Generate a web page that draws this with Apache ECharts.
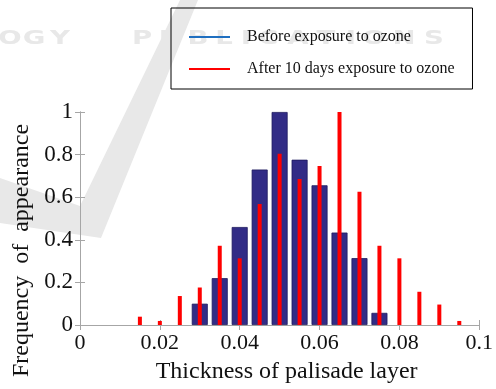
<!DOCTYPE html>
<html>
<head>
<meta charset="utf-8">
<script src="https://cdn.jsdelivr.net/npm/echarts@6/dist/echarts.min.js"></script>
<style>
  html, body { margin: 0; padding: 0; background: #fff; }
  #chart { width: 496px; height: 389px; }
</style>
</head>
<body>
<div id="chart"></div>
<script>
// Histogram bin centres (thickness of palisade layer)
const beforeThickness = [0.030, 0.035, 0.040, 0.045, 0.050, 0.055, 0.060, 0.065, 0.070, 0.075];
const beforeFrequency = [0.10, 0.22, 0.46, 0.73, 1.00, 0.776, 0.656, 0.434, 0.314, 0.057];

const afterThickness = [0.015, 0.020, 0.025, 0.030, 0.035, 0.040, 0.045, 0.050, 0.055,
                        0.060, 0.065, 0.070, 0.075, 0.080, 0.085, 0.090, 0.095];
const afterFrequency = [0.039, 0.019, 0.136, 0.176, 0.372, 0.313, 0.568, 0.804, 0.686,
                        0.746, 1.00, 0.626, 0.372, 0.313, 0.156, 0.096, 0.019];

const seriesNames = ['Before exposure to ozone', 'After 10 days exposure to ozone'];
const xTicks = [0, 0.02, 0.04, 0.06, 0.08, 0.1];
const yTicks = [0, 0.2, 0.4, 0.6, 0.8, 1];

const serif = 'Liberation Serif';
const frameColor = '#a6a6a6';

// faint publisher watermark letters drawn behind everything
const wmLetters = ['O','G','Y','P','U','B','L','I','C','A','T','I','O','N','S'];
const wmX = [10, 34, 60, 142, 170, 198, 224, 246, 268, 298, 326, 351, 374, 404, 434];
const watermark = wmLetters.map((ch, i) => ({
  type: 'text', z: -10, silent: true,
  x: wmX[i], y: 39, scaleX: 1.45,
  style: { text: ch, fill: '#e8e8e8', font: 'bold 19px "DejaVu Sans"', align: 'center', verticalAlign: 'middle' }
}));

const chart = echarts.init(document.getElementById('chart'), null, { renderer: 'canvas' });

const axisCommon = {
  type: 'value',
  axisLine: { show: true, lineStyle: { color: frameColor, width: 1 } },
  axisTick: { show: true, inside: true, length: 5, lineStyle: { color: frameColor } },
  splitLine: { show: false }
};

chart.setOption({
  animation: false,
  backgroundColor: '#fff',
  grid: { left: 80, right: 15, top: 112, bottom: 54, containLabel: false },
  legend: {
    orient: 'vertical',
    left: 171, top: 8,
    padding: [21, 18, 12, 18],
    itemGap: 16,
    itemWidth: 41, itemHeight: 2,
    borderColor: '#000', borderWidth: 1,
    icon: 'rect',
    textStyle: { fontFamily: serif, fontSize: 16, color: '#111', padding: [0, 0, 0, 12] },
    data: [
      { name: seriesNames[0], itemStyle: { color: '#1f6fc0', borderWidth: 0 } },
      { name: seriesNames[1], itemStyle: { color: '#ff0000', borderWidth: 0 } }
    ]
  },
  xAxis: [
    Object.assign({}, axisCommon, {
      position: 'bottom', min: 0, max: 0.1, interval: 0.02,
      axisLabel: {
        fontFamily: serif, fontSize: 22, color: '#111', margin: 7,
        formatter: v => xTicks.some(t => Math.abs(t - v) < 1e-9) ? String(+v.toFixed(2)) : ''
      },
      name: 'Thickness of palisade layer',
      nameLocation: 'middle', nameGap: 35,
      nameTextStyle: { fontFamily: serif, fontSize: 24, color: '#111', padding: [0, 0, 0, 14] }
    }),
    Object.assign({}, axisCommon, {
      position: 'top', min: 0, max: 0.1, interval: 0.02,
      axisLabel: { show: false }
    })
  ],
  yAxis: [
    Object.assign({}, axisCommon, {
      position: 'left', min: 0, max: 1, interval: 0.2,
      axisLabel: {
        fontFamily: serif, fontSize: 23, color: '#111', margin: 7,
        formatter: v => yTicks.some(t => Math.abs(t - v) < 1e-9) ? String(+v.toFixed(1)) : ''
      },
      name: 'Frequency  of  appearance',
      nameLocation: 'middle', nameGap: 44,
      nameTextStyle: { fontFamily: serif, fontSize: 24, color: '#111', padding: [0, 64, 0, 0] }
    }),
    Object.assign({}, axisCommon, {
      position: 'right', min: 0, max: 1, interval: 0.2,
      axisLabel: { show: false }
    })
  ],
  series: [
    {
      name: seriesNames[0],
      type: 'bar',
      xAxisIndex: 0, yAxisIndex: 0,
      barWidth: 16,
      itemStyle: { color: '#322c86', borderColor: '#1e1a5e', borderWidth: 0.8 },
      data: beforeThickness.map((x, i) => [x, beforeFrequency[i]])
    },
    {
      name: seriesNames[1],
      type: 'bar',
      xAxisIndex: 1, yAxisIndex: 0,
      barWidth: 4,
      itemStyle: { color: '#ff0000' },
      data: afterThickness.map((x, i) => [x, afterFrequency[i]])
    }
  ],
  graphic: watermark.concat([
    {
      // large faint "V" stroke of the watermark
      type: 'polygon', z: -10, silent: true,
      shape: { points: [[180, 0], [198, 0], [101, 238], [0, 223], [0, 178], [80, 206]] },
      style: { fill: '#e8e8e8' }
    }
  ])
});
</script>
</body>
</html>
